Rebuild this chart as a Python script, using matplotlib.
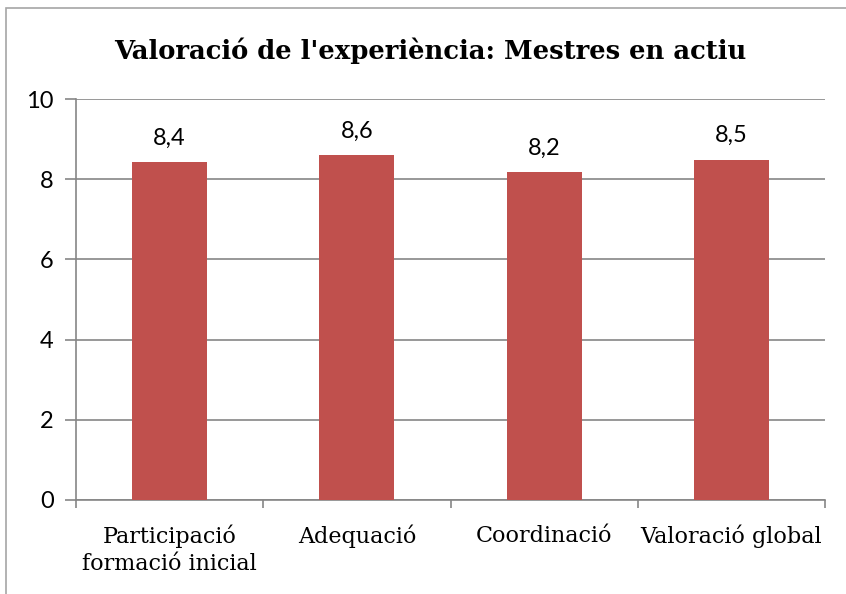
import matplotlib.pyplot as plt
import matplotlib.patches as mpatches

categories = ['Participació\nformació inicial', 'Adequació', 'Coordinació', 'Valoració global']
values = [8.43, 8.6, 8.19, 8.49]
value_labels = ['8,4', '8,6', '8,2', '8,5']
yticks = [0, 2, 4, 6, 8, 10]

bar_color = '#C0504D'
grid_color = '#868686'

fig = plt.figure(figsize=(8.46, 5.94), dpi=100)
# plot area in pixels: x 76..825, y 99..500 (from top)
W, H = 846, 594
ax = fig.add_axes([76 / W, 1 - 500 / H, (825 - 76) / W, (500 - 99) / H])

x = range(len(categories))
ax.bar(x, values, width=0.4, color=bar_color, zorder=3)
for xi, v, lab in zip(x, values, value_labels):
    ax.text(xi, v + 0.33, lab, ha='center', va='bottom', fontsize=17,
            family='Lato', color='black')

ax.set_xlim(-0.5, len(categories) - 0.5)
ax.set_ylim(0, 10)
ax.set_yticks(yticks)
ax.set_yticklabels([str(t) for t in yticks], fontsize=17, family='Lato')
ax.yaxis.grid(True, color=grid_color, linewidth=1.2, zorder=0)

ax.set_xticks([i + 0.5 for i in range(-1, len(categories))], minor=False)
ax.set_xticklabels([])
ax.tick_params(axis='x', direction='out', length=6, color=grid_color, width=1.2)
ax.tick_params(axis='y', direction='out', length=8, color=grid_color, width=1.2, pad=8)
ax.set_xticks(list(x), minor=True)
ax.set_xticklabels(categories, minor=True, fontsize=16, family='DejaVu Serif',
                   linespacing=1.25)
ax.tick_params(axis='x', which='minor', length=0, pad=18)

for s in ['top', 'right']:
    ax.spines[s].set_visible(False)
for s in ['left', 'bottom']:
    ax.spines[s].set_color(grid_color)
    ax.spines[s].set_linewidth(1.2)

fig.text(430 / W, 1 - 51 / H, "Valoració de l'experiència: Mestres en actiu",
         ha='center', va='center', fontsize=18.6, fontweight='bold',
         family='DejaVu Serif')

# outer chart border (only top and left visible in the crop)
fig.add_artist(mpatches.Rectangle((6 / W, -0.1), 1.2, 1 - 8 / H + 0.1,
                                  transform=fig.transFigure, fill=False,
                                  edgecolor='#A6A6A6', linewidth=1.2))

fig.savefig('out.png', dpi=100)
